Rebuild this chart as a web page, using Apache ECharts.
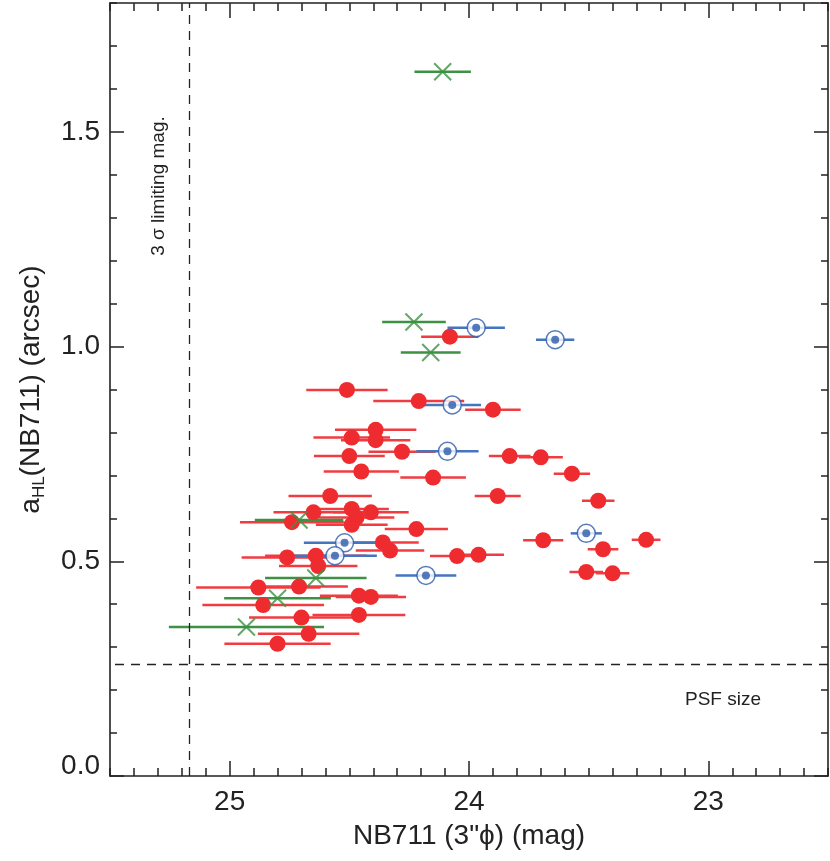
<!DOCTYPE html>
<html>
<head>
<meta charset="utf-8">
<title>aHL vs NB711</title>
<script src="https://cdn.jsdelivr.net/npm/echarts@6/dist/echarts.min.js"></script>
<style>
  html, body { margin: 0; padding: 0; background: #fff; }
  #chart { width: 830px; height: 861px; }
</style>
</head>
<body>
<div id="chart"></div>
<script>
// [mag, aHL, mag error]
var redPoints = [
  [24.08, 1.023, 0.12], [24.51, 0.899, 0.17], [24.21, 0.873, 0.19], [23.90, 0.853, 0.116],
  [24.39, 0.806, 0.17], [24.49, 0.788, 0.16], [24.39, 0.782, 0.145], [24.50, 0.745, 0.148],
  [24.28, 0.755, 0.14], [23.83, 0.745, 0.087], [23.70, 0.742, 0.092], [24.45, 0.709, 0.157],
  [24.15, 0.695, 0.137], [23.57, 0.704, 0.076], [24.58, 0.652, 0.174], [23.88, 0.652, 0.096],
  [23.46, 0.641, 0.068], [24.49, 0.622, 0.155], [24.65, 0.614, 0.167], [24.41, 0.614, 0.158],
  [24.47, 0.602, 0.158], [24.49, 0.585, 0.15], [24.74, 0.591, 0.217], [24.22, 0.575, 0.132],
  [24.36, 0.544, 0.15], [24.33, 0.525, 0.143], [23.69, 0.549, 0.084], [23.26, 0.550, 0.06],
  [23.44, 0.528, 0.064], [24.05, 0.512, 0.113], [23.96, 0.515, 0.106], [24.76, 0.509, 0.19],
  [24.64, 0.513, 0.212], [24.63, 0.489, 0.164], [23.51, 0.475, 0.07], [23.40, 0.472, 0.07],
  [24.88, 0.439, 0.26], [24.71, 0.441, 0.204], [24.46, 0.420, 0.163], [24.41, 0.417, 0.147],
  [24.86, 0.398, 0.254], [24.46, 0.375, 0.194], [24.70, 0.369, 0.219], [24.67, 0.331, 0.212],
  [24.80, 0.308, 0.222]
];
var greenPoints = [
  [24.11, 1.640, 0.118], [24.23, 1.057, 0.133], [24.16, 0.986, 0.125], [24.71, 0.596, 0.185],
  [24.64, 0.461, 0.212], [24.80, 0.414, 0.223], [24.93, 0.347, 0.324]
];
var bluePoints = [
  [23.97, 1.044, 0.12], [23.64, 1.016, 0.08], [24.07, 0.864, 0.12], [24.09, 0.756, 0.13],
  [23.51, 0.565, 0.065], [24.52, 0.543, 0.17], [24.56, 0.513, 0.175], [24.18, 0.467, 0.127]
];
var limitMag = 25.17;   // 3 sigma limiting magnitude
var psfSize = 0.26;     // arcsec
var xMajor = [23, 24, 25];
var yMajor = [0, 0.5, 1.0, 1.5];

var FONT = '"Liberation Sans", Arial, Helvetica, sans-serif';
var INK = '#222';
var RED = '#ee2c30', RED_BAR = '#f03c40';
var BLUE = '#2a5aaa', BLUE_BAR = '#4675bf';
var GREEN = '#3d9142';

var chart = echarts.init(document.getElementById('chart'));

function errBars(data, color) {
  return {
    type: 'custom',
    data: data,
    encode: { x: 0, y: 1 },
    silent: true,
    renderItem: function (params, api) {
      var m = api.value(0), v = api.value(1), e = api.value(2);
      var a = api.coord([m - e, v]);
      var b = api.coord([m + e, v]);
      return {
        type: 'line',
        shape: { x1: a[0], y1: a[1], x2: b[0], y2: b[1] },
        style: { stroke: color, lineWidth: 2.5 }
      };
    }
  };
}

function xAx(pos, major) {
  var o = {
    type: 'value', position: pos, min: 22.5, max: 25.5, inverse: true,
    splitLine: { show: false },
    axisLine: { show: major, onZero: false, lineStyle: { color: INK, width: 1.6 } },
    axisTick: { show: true, inside: true, length: major ? 15 : 8, lineStyle: { color: INK, width: 1.5 } },
    axisLabel: { show: false }
  };
  if (major) {
    o.axisTick.customValues = xMajor;
    o.axisLabel = { show: pos === 'bottom', customValues: xMajor, color: INK, fontSize: 28, fontFamily: FONT, margin: 12 };
  } else {
    o.interval = 0.1;
  }
  return o;
}

function yAx(pos, major) {
  var o = {
    type: 'value', position: pos, min: 0, max: 1.8,
    splitLine: { show: false },
    axisLine: { show: major, onZero: false, lineStyle: { color: INK, width: 1.6 } },
    axisTick: { show: true, inside: true, length: major ? 14 : 7, lineStyle: { color: INK, width: 1.5 } },
    axisLabel: { show: false }
  };
  if (major) {
    o.axisTick.customValues = yMajor;
    o.axisLabel = {
      show: pos === 'left', customValues: yMajor, color: INK, fontSize: 28, fontFamily: FONT, margin: 10,
      formatter: function (v) { return v === 0 ? '{z|0.0}' : v.toFixed(1); },
      rich: { z: { fontSize: 28, fontFamily: FONT, color: INK, padding: [0, 0, 20, 0] } }
    };
  } else {
    o.interval = 0.1;
  }
  return o;
}

var xb = xAx('bottom', true);
xb.name = 'NB711 (3"\u03d5) (mag)';
xb.nameLocation = 'middle';
xb.nameGap = 46;
xb.nameTextStyle = { color: INK, fontSize: 28, fontFamily: FONT };

var yl = yAx('left', true);
yl.name = '{a|a}{s|HL}{a|(NB711) (arcsec)}';
yl.nameLocation = 'middle';
yl.nameGap = 62;
yl.nameTextStyle = {
  color: INK, fontFamily: FONT,
  rich: {
    a: { fontSize: 28, fontFamily: FONT, color: INK, lineHeight: 34 },
    s: { fontSize: 17, fontFamily: FONT, color: INK, verticalAlign: 'bottom', lineHeight: 34, padding: [8, 0, 0, 0] }
  }
};

var option = {
  backgroundColor: '#fff',
  animation: false,
  grid: { left: 110, right: 2, top: 3, bottom: 85 },
  xAxis: [xb, xAx('bottom', false), xAx('top', true), xAx('top', false)],
  yAxis: [yl, yAx('left', false), yAx('right', true), yAx('right', false)],
  graphic: [
    {
      type: 'text', x: 159, y: 186, rotation: Math.PI / 2,
      style: { text: '3 \u03c3 limiting mag.', fontSize: 19, fontFamily: FONT, fill: INK, align: 'center', verticalAlign: 'middle' }
    },
    {
      type: 'text', x: 723, y: 700,
      style: { text: 'PSF size', fontSize: 19, fontFamily: FONT, fill: INK, align: 'center', verticalAlign: 'middle' }
    }
  ],
  series: [
    errBars(redPoints, RED_BAR),
    errBars(greenPoints, GREEN),
    errBars(bluePoints, BLUE_BAR),
    {
      type: 'scatter',
      data: redPoints,
      symbol: 'circle',
      symbolSize: 16,
      itemStyle: { color: RED, opacity: 1 },
      markLine: {
        silent: true, symbol: 'none', label: { show: false },
        lineStyle: { type: [9, 7], color: INK, width: 1.3 },
        data: [{ xAxis: limitMag }, { yAxis: psfSize }]
      }
    },
    {
      type: 'scatter',
      data: greenPoints,
      symbol: 'path://M0,0L16,16M16,0L0,16',
      symbolSize: 17,
      itemStyle: { color: 'transparent', borderColor: GREEN, borderWidth: 2 }
    },
    {
      type: 'scatter',
      data: bluePoints,
      symbol: 'circle',
      symbolSize: 18,
      itemStyle: { color: '#fff', borderColor: BLUE, borderWidth: 1.5 }
    },
    {
      type: 'scatter',
      data: bluePoints,
      symbol: 'circle',
      symbolSize: 8,
      itemStyle: { color: BLUE }
    }
  ]
};

chart.setOption(option);
</script>
</body>
</html>
